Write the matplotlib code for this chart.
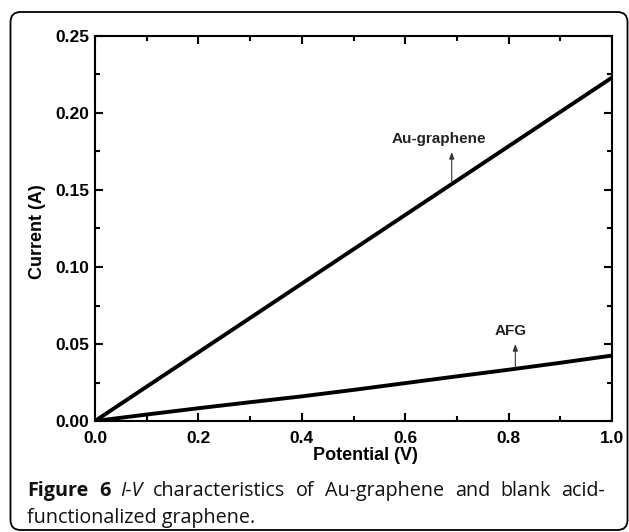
import matplotlib
matplotlib.use("Agg")
import matplotlib.pyplot as plt
from matplotlib import font_manager
from matplotlib.font_manager import FontProperties
from matplotlib.patches import FancyBboxPatch
from matplotlib.ticker import MultipleLocator, FormatStrFormatter

# data
potential = [0.0, 0.1, 0.2, 0.3, 0.4, 0.5, 0.6, 0.7, 0.8, 0.9, 1.0]
au_graphene = [0.0, 0.0223, 0.0446, 0.0669, 0.0892, 0.1115, 0.1338, 0.1561, 0.1784, 0.2007, 0.223]
afg = [0.0, 0.0042, 0.0083, 0.0122, 0.016, 0.0202, 0.0246, 0.029, 0.0333, 0.0378, 0.0425]

# caption words: (text, style, weight); line 1 is justified
caption_1 = [("Figure", "normal", "bold"), ("6", "normal", "bold"),
             ("I-V", "italic", "normal"), ("characteristics", "normal", "normal"),
             ("of", "normal", "normal"), ("Au-graphene", "normal", "normal"),
             ("and", "normal", "normal"), ("blank", "normal", "normal"),
             ("acid-", "normal", "normal")]
caption_2 = [("functionalized graphene.", "normal", "normal")]

W, H = 629, 532
DPI = 100
plt.rcParams["font.family"] = ["Liberation Sans", "DejaVu Sans"]

fig = plt.figure(figsize=(W / DPI, H / DPI), dpi=DPI)

# rounded frame around figure + caption
frame = FancyBboxPatch((10.5 / W, 2 / H), 617 / W, 518 / H,
                       boxstyle="round,pad=0,rounding_size=0.016",
                       mutation_aspect=W / H,
                       transform=fig.transFigure, fill=False,
                       edgecolor="black", linewidth=1.3)
fig.patches.append(frame)

ax = fig.add_axes([95 / W, 1 - 421 / H, 517 / W, 385 / H])
ax.plot(potential, au_graphene, color="black", lw=2.8, solid_capstyle="butt")
ax.plot(potential, afg, color="black", lw=2.8, solid_capstyle="butt")

ax.set_xlim(0, 1.0)
ax.set_ylim(0, 0.25)
ax.xaxis.set_major_locator(MultipleLocator(0.2))
ax.xaxis.set_minor_locator(MultipleLocator(0.1))
ax.yaxis.set_major_locator(MultipleLocator(0.05))
ax.yaxis.set_minor_locator(MultipleLocator(0.025))
ax.xaxis.set_major_formatter(FormatStrFormatter("%.1f"))
ax.yaxis.set_major_formatter(FormatStrFormatter("%.2f"))
ax.tick_params(which="both", direction="in", top=True, right=True, width=1.5,
               labelsize=12.5, colors="black")
ax.tick_params(axis="x", pad=7)
ax.tick_params(axis="y", pad=4)
ax.tick_params(which="major", length=6)
ax.tick_params(which="minor", length=3.8)
for lbl in ax.get_xticklabels() + ax.get_yticklabels():
    lbl.set_fontweight("bold")
for sp in ax.spines.values():
    sp.set_linewidth(1.5)

ax.set_xlabel("Potential (V)", fontsize=13, fontweight="bold", labelpad=1)
ax.set_ylabel("Current (A)", fontsize=13, fontweight="bold", labelpad=7)
ax.xaxis.label.set_x(0.524)  # label sits a bit right of centre in the original
ax.yaxis.label.set_y(0.492)

# labels with small arrows
arrow = dict(arrowstyle="-|>,head_length=0.4,head_width=0.15", color="#333333",
             lw=0.8, shrinkA=0, shrinkB=0)
ax.annotate("", xy=(0.69, 0.1747), xytext=(0.69, 0.1545), arrowprops=arrow)
ax.text(0.665, 0.1805, "Au-graphene", ha="center", va="baseline", fontsize=11,
        fontweight="bold", color="#222222")
ax.annotate("", xy=(0.813, 0.050), xytext=(0.813, 0.0344), arrowprops=arrow)
ax.text(0.805, 0.0558, "AFG", ha="center", va="baseline", fontsize=11,
        fontweight="bold", color="#222222")

# caption
CAP_FAMILY = "Open Sans"


def run_width(text, style, weight, size):
    fp = FontProperties(family=CAP_FAMILY, style=style, weight=weight, size=size)
    font = font_manager.get_font(font_manager.findfont(fp))
    font.set_size(size, DPI)
    w = 0.0
    for ch in text:
        w += font.load_char(ord(ch)).linearHoriAdvance / 65536
    return w


# font size from the (unjustified) last line: 27 -> 255 px
nat2 = sum(run_width(t, s, w, 10) for t, s, w in caption_2)
cap_size = 10 * (255 - 27) / nat2


def put_words(words, x0, baseline, x1=None):
    widths = [run_width(t, s, w, cap_size) for t, s, w in words]
    gap = run_width(" ", "normal", "normal", cap_size)
    if x1 is not None and len(words) > 1:
        gap = (x1 - x0 - sum(widths)) / (len(words) - 1)
    x = x0
    for (text, style, weight), wd in zip(words, widths):
        fig.text(x / W, 1 - baseline / H, text, family=CAP_FAMILY,
                 style=style, weight=weight, size=cap_size,
                 va="baseline", ha="left", color="#111111")
        x += wd + gap


put_words(caption_1, 27, 496, 605)
put_words(caption_2, 27, 523)

fig.savefig("out.png", dpi=DPI)
